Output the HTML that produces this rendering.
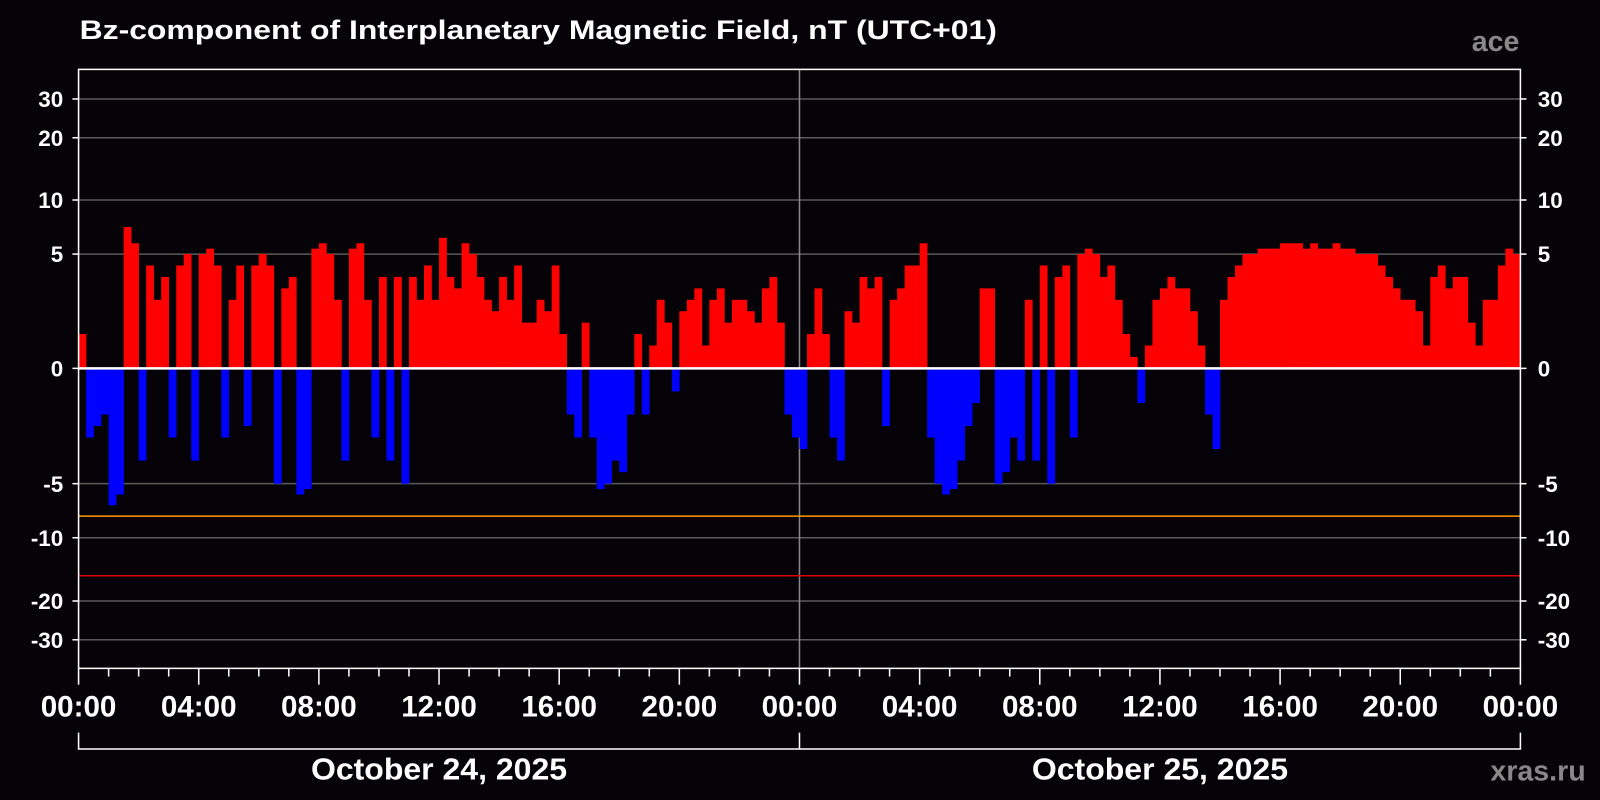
<!DOCTYPE html>
<html><head><meta charset="utf-8"><style>
html,body{margin:0;padding:0;background:#050307;}
svg{display:block;font-family:"Liberation Sans",sans-serif;font-weight:bold;}
</style></head><body>
<svg id="chart" width="1600" height="800">
<rect x="0" y="0" width="1600" height="800" fill="#050307"/>
<g transform="scale(1.0204)">
<text x="78" y="38" fill="#fff" font-size="26" textLength="899" lengthAdjust="spacingAndGlyphs">Bz-component of Interplanetary Magnetic Field, nT (UTC+01)</text>
<text x="1489" y="50" fill="#888" font-size="28" text-anchor="end">ace</text>
<text x="1554" y="765" fill="#888" font-size="28" text-anchor="end">xras.ru</text>
<g id="grid"></g><g id="bars"></g><g id="overlay"></g>
</g>
</svg>
<script>
const yTicks=[30,20,10,5,0,-5,-10,-20,-30];
const yTickPx=[97,135,196,249,361,474,527,589,627];
const xTickLabels=["00:00","04:00","08:00","12:00","16:00","20:00","00:00","04:00","08:00","12:00","16:00","20:00","00:00"];
const dateLabels=["October 24, 2025","October 25, 2025"];
const thresholdOrange=-8;
const thresholdRed=-16;
const bzDay1=[1.5,-3,-2.5,-2,-7,-6,7.5,6,-4,4.5,3,4,-3,4.5,5,-4,5,5.5,4.5,-3,3,4.5,-2.5,4.5,5,4.5,-5,3.5,4,-6,-5.5,5.5,6,5,3,-4,5.5,6,3,-3,4,-4,4,-5,4,3,4.5,3,6.5,4,3.5,6,5,4,3,2.5,4,3,4.5,2,2,3,2.5,4.5,1.5,-2,-3,2,-3,-5.5,-5,-4,-4.5,-2,1.5,-2,1,3,2,-1,2.5,3,3.5,1,3,3.5,2,3,3,2.5,2,3.5,4,2,-2,-3];
const bzDay2=[-3.5,1.5,3.5,1.5,-3,-4,2.5,2,4,3.5,4,-2.5,3,3.5,4.5,4.5,6,-3,-5,-6,-5.5,-4,-2.5,-1.5,3.5,3.5,-5,-4.5,-3,-4,3,-4,4.5,-5,4,4.5,-3,5,5.5,5,4,4.5,3,1.5,0.5,-1.5,1,3,3.5,4,3.5,3.5,2.5,1,-2,-3.5,3,4,4.5,5,5,5.5,5.5,5.5,6,6,6,5.5,6,5.5,5.5,6,5.5,5.5,5,5,5,4.5,4,3.5,3,3,2.5,1,4,4.5,3.5,4,4,2,1,3,3,4.5,5.5,5];
const bz=bzDay1.concat(bzDay2);
const X0=77,X1=1490,HOURS=48;
function xs(h){return X0+(X1-X0)*h/HOURS;}
function ys(v){
 for(let i=0;i<yTicks.length-1;i++){
  const a=yTicks[i],b=yTicks[i+1];
  if(v<=a&&v>=b){return yTickPx[i]+(yTickPx[i+1]-yTickPx[i])*(a-v)/(a-b);}
 }
 return v>0?yTickPx[0]:yTickPx[yTickPx.length-1];
}
const NS="http://www.w3.org/2000/svg";
function mk(tag,attrs,parent,txt){const e=document.createElementNS(NS,tag);for(const k in attrs)e.setAttribute(k,attrs[k]);if(txt!==undefined)e.textContent=txt;parent.appendChild(e);return e;}
const grid=document.getElementById('grid'),bars=document.getElementById('bars'),ov=document.getElementById('overlay');
yTicks.forEach((t,i)=>{
 const y=ys(t);
 if(t!==0){const l=mk('line',{x1:X0,x2:X1,y1:y,y2:y,stroke:'#5a5a5a','stroke-width':1.5},grid);
 
 }
 const a=mk('text',{x:62,y:y+8,fill:'#fff','font-size':22,'text-anchor':'end'},grid,String(t));
 
 
 const b=mk('text',{x:1507,y:y+8,fill:'#fff','font-size':22},grid,String(t));
 
 
 mk('line',{x1:X0-6,x2:X0,y1:y,y2:y,stroke:'#fff','stroke-width':1.5},grid);
 mk('line',{x1:X1,x2:X1+6,y1:y,y2:y,stroke:'#fff','stroke-width':1.5},grid);
});
const mid=mk('line',{x1:xs(24),x2:xs(24),y1:68,y2:655,stroke:'#888','stroke-width':1.5},grid);


const step=HOURS/bz.length;
bz.forEach((v,i)=>{
 const x=xs(i*step),w=xs((i+1)*step)-x,y0=ys(0),y=ys(v);
 const r=mk('rect',{x:x,y:Math.min(y,y0),width:w+0.3,height:Math.abs(y0-y),fill:v>=0?'#ff0000':'#0000ff'},bars);
 
 
});
let l=mk('line',{x1:X0,x2:X1,y1:ys(0),y2:ys(0),stroke:'#fff','stroke-width':2.5},ov);


l=mk('line',{x1:X0,x2:X1,y1:ys(thresholdOrange),y2:ys(thresholdOrange),stroke:'#ff9900','stroke-width':1.5},ov);


l=mk('line',{x1:X0,x2:X1,y1:ys(thresholdRed),y2:ys(thresholdRed),stroke:'#dd0000','stroke-width':1.5},ov);


const frame=mk('rect',{x:X0,y:68,width:X1-X0,height:587,fill:'none',stroke:'#fff','stroke-width':1.5},ov);


for(let h=0;h<=HOURS;h++){
 const x=xs(h);
 mk('line',{x1:x,x2:x,y1:655,y2:h%4===0?671:663,stroke:'#fff','stroke-width':1.5},ov);
}
xTickLabels.forEach((s,i)=>{
 const t=mk('text',{x:xs(i*4),y:702,fill:'#fff','font-size':29,'text-anchor':'middle'},ov,s);
 
 
});
mk('path',{d:`M${X0} 718V734H${X1}V718M${xs(24)} 718V734`,stroke:'#fff','stroke-width':1.5,fill:'none'},ov);
dateLabels.forEach((s,i)=>{
 const t=mk('text',{x:xs(12+24*i),y:764,fill:'#fff','font-size':30,'text-anchor':'middle',textLength:251,lengthAdjust:'spacingAndGlyphs'},ov,s);
 
 
});
</script>
</body></html>
